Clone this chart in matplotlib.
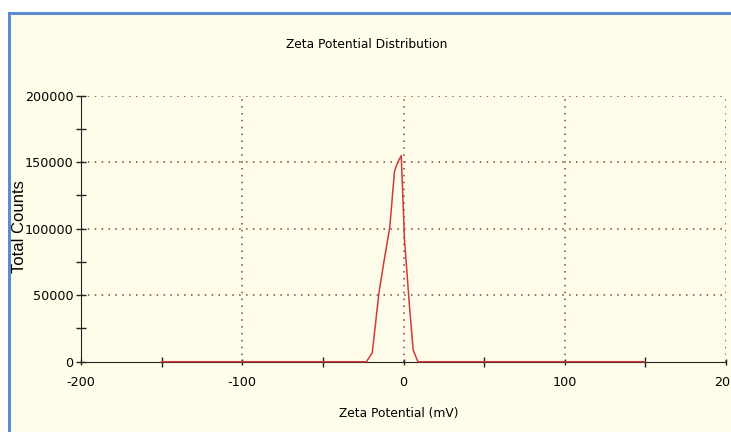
import numpy as np
import matplotlib.pyplot as plt
from matplotlib.patches import Rectangle
from matplotlib.ticker import MultipleLocator

# zeta potential (mV) and total counts
zeta_mv = [-150, -23, -19.4, -15.2, -12.2, -8.5, -5.6, -3.9, -1.4,
           0.6, 3.7, 6.0, 8.9, 150]
counts = [0, 0, 6600, 52000, 74800, 101300, 143000, 149000, 155000,
          92000, 41700, 8800, 0, 0]

x_ticks = [-200, -100, 0, 100, 200]
y_ticks = [0, 50000, 100000, 150000, 200000]

narrow = dict(family='DejaVu Sans', fontsize=9.2)

def main():
    fig = plt.figure(figsize=(7.31, 4.32), dpi=100)
    fig.patch.set_facecolor('white')

    # framed cream panel, runs off the right and bottom edges
    frame = Rectangle((0.012, -0.05), 1.1, 1.02, transform=fig.transFigure,
                      facecolor='#fffde9', edgecolor='#5b8bd0', lw=2.2,
                      zorder=-5)
    fig.patches.append(frame)

    ax = fig.add_axes([0.1108, 0.1627, 0.8824, 0.6158])
    ax.set_zorder(2)
    ax.set_facecolor('none')

    ax.plot(zeta_mv, counts, color='#d03a3a', lw=1.1, zorder=3, clip_on=False)

    ax.set_xlim(-200, 200)
    ax.set_ylim(0, 200000)
    ax.set_xticks(x_ticks)
    ax.set_yticks(y_ticks)
    ax.xaxis.set_minor_locator(MultipleLocator(50))
    ax.yaxis.set_minor_locator(MultipleLocator(25000))
    ax.set_xticklabels([str(v) for v in x_ticks], **narrow)
    ax.set_yticklabels([str(v) for v in y_ticks], **narrow)
    ax.tick_params(which='both', direction='inout', length=7, width=1,
                   color='#222222')
    ax.tick_params(axis='x', which='major', length=4, pad=8)
    ax.tick_params(axis='y', which='major', pad=2)

    for s in ['top', 'right']:
        ax.spines[s].set_visible(False)
    ax.spines['left'].set_color('#222222')
    ax.spines['bottom'].set_color('#222222')

    # dotted grid, including the far edges
    for y in y_ticks[1:]:
        ax.axhline(y, color='#6e4a3e', ls=(0, (1, 3.5)), lw=1.1, zorder=1)
    for x in x_ticks[1:]:
        ax.axvline(x, color='#6e4a3e', ls=(0, (1, 3.5)), lw=1.1, zorder=1)

    fig.text(0.502, 0.898, 'Zeta Potential Distribution', ha='center',
             va='center', family='DejaVu Sans', fontsize=8.8)
    fig.text(0.546, 0.042, 'Zeta Potential (mV)', ha='center', va='center',
             family='DejaVu Sans', fontsize=8.8)
    fig.text(0.027, 0.475, 'Total Counts', rotation=90, ha='center',
             va='center', fontsize=12, family=['Liberation Sans', 'DejaVu Sans'])

    fig.savefig('out.png', dpi=100)

if __name__ == "__main__":
    main()
